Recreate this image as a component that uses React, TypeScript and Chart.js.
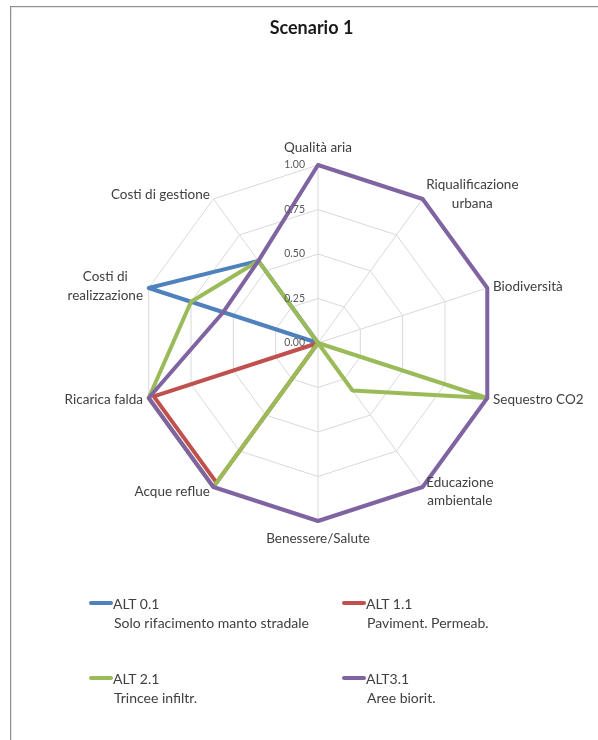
import React, { useEffect, useRef } from "react";
import { Chart, registerables } from "chart.js";

Chart.register(...registerables);

const categories: (string | string[])[] = [
  "Qualità aria",
  ["Riqualificazione", "urbana"],
  "Biodiversità",
  "Sequestro CO2",
  ["Educazione", "ambientale"],
  "Benessere/Salute",
  "Acque reflue",
  "Ricarica falda",
  ["Costi di", "realizzazione"],
  "Costi di gestione",
];

const alt01 = [0, 0, 0, 0, 0, 0, 0, 0, 1, 0.57];
const alt11 = [0, 0, 0, 0, 0, 0, 0.97, 0.97, 0, 0];
const alt21 = [0, 0, 0, 1, 0.33, 0, 1, 1, 0.75, 0.57];
const alt31 = [1, 1, 1, 1, 1, 1, 1, 1, 0.56, 0.57];

const seriesNames = ["ALT 0.1", "ALT 1.1", "ALT 2.1", "ALT3.1"];
const seriesDesc = [
  "Solo rifacimento manto stradale",
  "Paviment. Permeab.",
  "Trincee infiltr.",
  "Aree biorit.",
];
const seriesColors = ["#4F81BD", "#C0504D", "#9BBB59", "#8064A2"];
const seriesData = [alt01, alt11, alt21, alt31];

const tickMin = 0;
const tickMax = 1;
const tickStep = 0.25;

const FONT = "Lato, 'Open Sans', sans-serif";
const LABEL_LH = 18.5;

const labelPlugin = {
  id: "excelLabels",
  afterDraw(chart: any) {
    const scale = chart.scales.r;
    const ctx = chart.ctx;
    ctx.save();
    ctx.fillStyle = "#595959";
    ctx.font = `10.5px ${FONT}`;
    ctx.textAlign = "right";
    ctx.textBaseline = "middle";
    scale.ticks.forEach((t: any) => {
      const d = scale.getDistanceFromCenterForValue(t.value);
      ctx.fillText(Number(t.value).toFixed(2), scale.xCenter - 13, scale.yCenter - d);
    });

    ctx.fillStyle = "#404040";
    ctx.font = `13.5px ${FONT}`;
    const labels = chart.data.labels as (string | string[])[];
    const n = labels.length;
    labels.forEach((lab, i) => {
      const lines = Array.isArray(lab) ? lab : [lab];
      const ang = (i * 360) / n;
      const vertical = ang === 0 || ang === 180;
      const pos = scale.getPointPosition(i, scale.drawingArea + (vertical ? 8 : 6));
      const bw = Math.max(...lines.map((l) => ctx.measureText(l).width));
      const h = lines.length * LABEL_LH;
      let cx = pos.x;
      if (!vertical) cx = ang < 180 ? pos.x + bw / 2 : pos.x - bw / 2;
      let top = pos.y - h / 2;
      if (ang === 0) top = pos.y - h;
      if (ang === 180) top = pos.y;
      ctx.textAlign = "center";
      ctx.textBaseline = "middle";
      lines.forEach((l, k) => ctx.fillText(l, cx, top + LABEL_LH * (k + 0.5)));
    });
    ctx.restore();
  },
};

export default function App() {
  const canvasRef = useRef<HTMLCanvasElement | null>(null);

  useEffect(() => {
    if (!canvasRef.current) return;
    const chart = new Chart(canvasRef.current, {
      type: "radar",
      data: {
        labels: categories,
        datasets: seriesData.map((d, i) => ({
          label: seriesNames[i],
          data: d,
          borderColor: seriesColors[i],
          backgroundColor: seriesColors[i],
          borderWidth: 4,
          fill: false,
          pointRadius: 0,
          pointHoverRadius: 0,
          tension: 0,
          borderJoinStyle: "round" as const,
          borderCapStyle: "round" as const,
          order: seriesData.length - i,
        })),
      },
      options: {
        responsive: false,
        animation: false,
        devicePixelRatio: 1,
        layout: { padding: { left: 140, right: 102, top: 165, bottom: 219 } },
        plugins: {
          legend: { display: false },
          title: { display: false },
          tooltip: { enabled: false },
        },
        scales: {
          r: {
            min: tickMin,
            max: tickMax,
            startAngle: 0,
            ticks: { stepSize: tickStep, display: false },
            grid: { color: "#d9d9d9", lineWidth: 1 },
            angleLines: { color: "#d9d9d9", lineWidth: 1 },
            pointLabels: { display: false },
          },
        },
      },
      plugins: [labelPlugin],
    });
    return () => chart.destroy();
  }, []);

  return (
    <div
      style={{
        position: "absolute",
        left: 0,
        top: 0,
        width: 598,
        height: 740,
        overflow: "hidden",
        background: "#fff",
        fontFamily: FONT,
      }}
    >
      <div
        style={{
          position: "absolute",
          left: 10,
          top: 6,
          width: 640,
          height: 800,
          borderTop: "1px solid #8f8f8f",
          borderLeft: "1px solid #8f8f8f",
          boxShadow: "inset 1px 1px 1px #e4e4e4",
        }}
      />
      <canvas
        ref={canvasRef}
        width={598}
        height={740}
        style={{ position: "absolute", left: 0, top: 0 }}
      />
      <div
        style={{
          position: "absolute",
          left: 0,
          top: 16,
          width: 623,
          textAlign: "center",
          fontWeight: 700,
          fontSize: 18,
          lineHeight: "22px",
          color: "#1a1a1a",
        }}
      >
        Scenario 1
      </div>
      <div
        style={{
          position: "absolute",
          left: 89,
          top: 593.5,
          display: "grid",
          gridTemplateColumns: "253px 253px",
          gridAutoRows: "75px",
        }}
      >
        {seriesNames.map((name, i) => (
          <div key={name} style={{ position: "relative", paddingLeft: 24, fontSize: 14, lineHeight: "19px", color: "#404040" }}>
            <span
              style={{
                position: "absolute",
                left: 0,
                top: 7.5,
                width: 24,
                height: 4,
                borderRadius: 2,
                background: seriesColors[i],
              }}
            />
            <div>{name}</div>
            <div style={{ paddingLeft: 1 }}>{seriesDesc[i]}</div>
          </div>
        ))}
      </div>
    </div>
  );
}
